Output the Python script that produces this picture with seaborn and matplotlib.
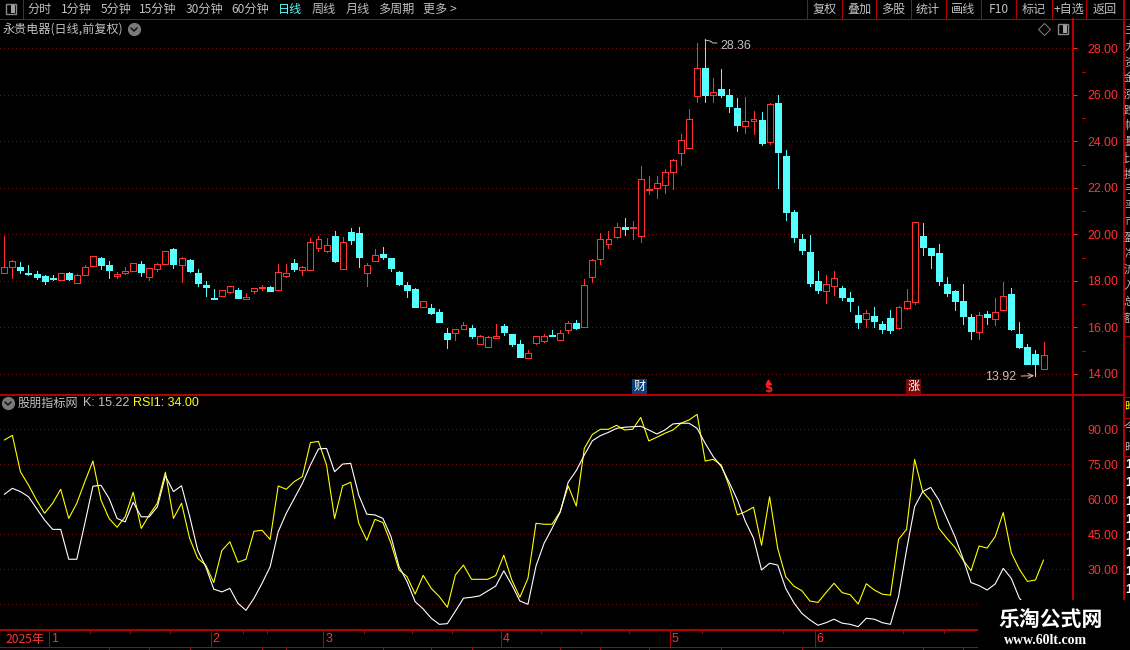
import matplotlib
matplotlib.use('Agg')
import matplotlib.pyplot as plt
from matplotlib.lines import Line2D
from matplotlib.patches import Rectangle
from matplotlib.ticker import FixedLocator
import numpy as np
import pandas as pd
import seaborn as sns

# daily bars
opens = [18.35, 18.58, 18.59, 18.32, 18.29, 18.21, 18.12, 18.05, 18.34, 17.92,
         18.26, 18.65, 18.98, 18.68, 18.22, 18.35, 18.44, 18.72, 18.18, 18.52,
         18.74, 19.37, 18.69, 18.89, 18.34, 17.82, 17.26, 17.36, 17.53, 17.60,
         17.23, 17.58, 17.69, 17.73, 17.60, 18.22, 18.77, 18.48, 18.48, 19.42,
         19.28, 19.93, 18.52, 20.10, 20.06, 18.35, 18.87, 19.15, 18.98, 18.38,
         17.82, 17.65, 16.89, 16.83, 16.66, 15.75, 15.77, 15.94, 15.97, 15.30,
         15.17, 15.55, 16.06, 15.71, 15.28, 14.69, 15.34, 15.42, 15.67, 15.47,
         15.90, 16.19, 16.03, 18.15, 18.92, 19.57, 19.87, 20.31, 20.27, 19.91,
         21.91, 21.98, 22.14, 22.66, 23.48, 23.73, 25.96, 27.15, 25.98, 26.25,
         25.99, 25.43, 24.64, 24.86, 24.91, 23.98, 25.65, 23.37, 20.96, 19.80,
         19.24, 17.99, 17.57, 17.79, 17.69, 17.26, 16.53, 16.37, 16.49, 16.14,
         16.40, 15.98, 16.84, 17.10, 19.93, 19.41, 19.20, 17.86, 17.56, 17.13,
         16.44, 15.81, 16.57, 16.37, 16.76, 17.43, 15.71, 15.15, 14.85, 14.21]
closes = [18.58, 18.84, 18.46, 18.29, 18.16, 18.01, 18.09, 18.32, 18.08, 18.24,
          18.58, 19.05, 18.68, 18.46, 18.29, 18.42, 18.75, 18.38, 18.54, 18.71,
          19.27, 18.72, 18.97, 18.42, 17.91, 17.73, 17.23, 17.59, 17.76, 17.26,
          17.30, 17.68, 17.72, 17.56, 18.38, 18.32, 18.51, 18.58, 19.65, 19.78,
          19.53, 18.85, 19.65, 19.75, 19.02, 18.67, 19.10, 19.02, 18.55, 17.86,
          17.60, 16.87, 17.12, 16.62, 16.23, 15.50, 15.91, 16.08, 15.63, 15.61,
          15.57, 15.61, 15.80, 15.28, 14.72, 14.88, 15.61, 15.61, 15.63, 15.74,
          16.17, 15.97, 17.80, 18.88, 19.78, 19.78, 20.30, 20.24, 20.30, 22.36,
          21.95, 22.19, 22.66, 23.18, 24.04, 24.94, 27.14, 25.99, 26.11, 25.99,
          25.51, 24.70, 24.86, 24.94, 23.93, 25.59, 23.54, 20.96, 19.88, 19.32,
          17.91, 17.60, 17.85, 18.11, 17.30, 17.13, 16.23, 16.60, 16.27, 15.93,
          15.88, 16.86, 17.12, 20.51, 19.45, 19.11, 17.99, 17.47, 17.13, 16.49,
          15.84, 16.53, 16.44, 16.64, 17.35, 15.93, 15.15, 14.42, 14.42, 14.79]
highs = [19.93, 18.89, 18.81, 18.68, 18.42, 18.25, 18.25, 18.32, 18.38, 18.28,
         18.68, 19.05, 19.02, 18.85, 18.38, 18.59, 18.75, 18.85, 18.54, 18.77,
         19.27, 19.41, 19.02, 18.94, 18.51, 17.99, 17.65, 17.59, 17.76, 17.69,
         17.48, 17.68, 17.82, 17.78, 18.72, 18.72, 18.94, 18.64, 19.84, 19.93,
         19.84, 20.14, 19.88, 20.27, 20.31, 18.77, 19.37, 19.45, 18.98, 18.42,
         17.95, 17.69, 17.12, 17.00, 16.79, 15.97, 15.91, 16.23, 16.10, 15.67,
         15.63, 16.14, 16.14, 15.71, 15.45, 15.02, 15.61, 15.71, 15.88, 15.88,
         16.27, 16.31, 18.08, 18.94, 20.06, 20.14, 20.49, 20.70, 20.57, 22.94,
         22.51, 22.51, 22.79, 23.24, 24.31, 25.39, 28.23, 28.36, 26.72, 27.11,
         26.25, 25.86, 25.91, 25.30, 25.26, 25.65, 25.99, 23.63, 21.04, 20.01,
         19.97, 18.42, 18.25, 18.42, 17.78, 17.52, 16.92, 16.74, 16.87, 16.27,
         16.74, 16.92, 17.65, 20.51, 20.49, 19.41, 19.58, 18.16, 17.60, 17.86,
         16.57, 16.66, 16.70, 17.26, 17.95, 17.69, 16.23, 15.28, 15.02, 15.37]
lows = [18.35, 18.12, 18.35, 18.25, 18.08, 17.86, 18.03, 18.05, 18.03, 17.92,
        18.26, 18.65, 18.51, 18.12, 18.12, 18.29, 18.44, 18.21, 18.03, 18.42,
        18.74, 18.55, 17.95, 18.38, 17.78, 17.35, 17.22, 17.36, 17.49, 17.26,
        17.23, 17.48, 17.60, 17.56, 17.60, 18.16, 18.42, 18.25, 18.48, 19.28,
        19.24, 18.81, 18.52, 19.58, 18.59, 17.78, 18.87, 18.94, 18.42, 17.82,
        17.30, 16.87, 16.89, 16.57, 16.23, 15.11, 15.45, 15.94, 15.54, 15.30,
        15.17, 15.55, 15.67, 15.20, 14.72, 14.69, 15.28, 15.37, 15.63, 15.47,
        15.75, 15.93, 16.03, 17.95, 18.72, 19.41, 19.84, 19.97, 19.80, 19.67,
        21.73, 21.56, 21.78, 21.95, 22.98, 23.73, 25.69, 25.69, 25.69, 25.91,
        25.26, 24.44, 24.36, 24.31, 23.84, 23.88, 21.99, 20.63, 19.67, 19.15,
        17.78, 17.47, 17.04, 17.39, 17.17, 16.70, 15.97, 16.01, 16.01, 15.75,
        15.75, 15.92, 16.79, 17.00, 19.11, 18.55, 17.82, 17.35, 16.74, 16.14,
        15.50, 15.50, 16.14, 16.10, 16.76, 15.88, 15.11, 14.42, 13.92, 14.21]

# indicator panel
rsi1 = [85.4, 87.4, 71.8, 66.1, 59.7, 54.0, 58.3, 64.3, 51.8, 58.3,
        67.6, 76.4, 59.7, 51.8, 48.0, 52.5, 63.0, 47.5, 53.3, 58.3,
        71.6, 51.8, 58.3, 43.3, 34.7, 31.8, 24.3, 38.0, 41.8, 33.0,
        34.3, 46.3, 46.7, 42.8, 65.7, 64.3, 67.6, 69.7, 84.3, 84.8,
        74.7, 51.8, 65.8, 67.3, 49.7, 42.4, 51.4, 50.0, 41.1, 29.7,
        26.8, 19.4, 27.4, 21.8, 18.3, 13.7, 27.6, 31.8, 25.7, 25.7,
        25.7, 27.3, 36.0, 25.4, 18.0, 26.1, 49.7, 49.3, 49.3, 54.7,
        65.7, 57.1, 81.8, 87.8, 90.0, 90.0, 91.7, 89.7, 90.0, 95.1,
        85.0, 86.6, 88.3, 89.7, 92.6, 94.0, 96.4, 76.4, 77.1, 74.7,
        65.4, 53.3, 54.7, 56.6, 40.3, 61.1, 39.0, 26.8, 22.8, 20.8,
        16.4, 15.8, 20.0, 24.0, 20.0, 19.1, 15.1, 23.8, 21.1, 19.3,
        18.9, 42.8, 47.1, 77.1, 63.3, 59.3, 47.6, 43.3, 39.4, 34.0,
        29.4, 40.0, 39.1, 44.0, 54.3, 37.1, 30.0, 24.8, 25.4, 34.0]
k_line = [62.1, 64.7, 63.3, 61.1, 56.1, 51.1, 47.1, 47.1, 34.3, 34.3,
          49.7, 65.6, 66.0, 60.4, 51.8, 50.3, 58.7, 52.5, 52.5, 56.8,
          70.0, 63.3, 65.8, 52.8, 38.3, 31.1, 21.5, 20.3, 21.8, 15.4,
          12.4, 17.6, 24.0, 31.1, 46.1, 54.0, 60.4, 66.8, 74.7, 81.6,
          81.8, 71.8, 75.1, 75.4, 61.8, 53.6, 53.3, 51.8, 44.0, 31.1,
          24.7, 16.1, 13.0, 9.0, 6.4, 6.7, 12.1, 17.6, 18.0, 18.6,
          20.7, 22.8, 29.3, 23.3, 16.4, 15.0, 31.4, 41.1, 47.6, 54.4,
          67.3, 72.3, 79.0, 85.1, 87.3, 88.7, 90.4, 90.9, 91.1, 91.3,
          89.7, 88.0, 89.7, 92.3, 92.6, 92.6, 90.4, 84.0, 78.3, 74.0,
          67.1, 59.7, 50.4, 43.3, 29.7, 32.6, 31.8, 21.8, 15.7, 11.1,
          8.3, 6.0, 7.1, 8.6, 6.9, 6.4, 5.4, 9.0, 8.6, 7.1,
          6.4, 18.3, 38.3, 56.8, 63.3, 65.1, 59.7, 51.8, 44.0, 34.7,
          24.3, 23.0, 21.1, 23.7, 30.4, 26.1, 17.6, 14.0, 13.5, 15.22]

price_ticks = [14, 16, 18, 20, 22, 24, 26, 28]
price_minor = [15, 17, 19, 21, 23, 25, 27]
rsi_ticks = [15, 30, 45, 60, 75, 90]
rsi_labels = ['', '30.00', '45.00', '60.00', '75.00', '90.00']
month_labels = ['1', '2', '3', '4', '5', '6']
month_starts = [6, 26, 40, 62, 83, 101]
week_marks = [11, 16, 21, 30, 33, 45, 51, 56, 67, 72, 78, 87, 97, 112, 117]
left_tools = ['分时', '1分钟', '5分钟', '15分钟', '30分钟', '60分钟', '日线', '周线', '月线', '多周期', '更多 >']
left_tool_x = [40, 76, 116, 158, 204, 250, 290, 324, 358, 396, 440]
right_tools = ['复权', '叠加', '多股', '统计', '画线', 'F10', '标记', '+自选', '返回']
right_tool_x = [825, 859, 893, 928, 963, 999, 1034, 1069, 1105]
right_tool_seps = [807, 842, 876, 911, 946, 981, 1016, 1052, 1086, 1123]

W, H = 1130, 650
RED = '#ff3232'
LINE_RED = '#b40000'
GRID_RED = '#701010'
CYAN = '#54ffff'
GREY = '#c0c0c0'
DOTS = (0, (1, 3))
THIN = 0.72

sns.set_theme(style='dark', rc={'axes.facecolor': 'black', 'figure.facecolor': 'black',
                                'savefig.facecolor': 'black', 'text.color': GREY})
plt.rcParams['font.family'] = ['Noto Sans CJK SC', 'DejaVu Sans']


def fx(x):
    return x / W


def fy(y):
    return 1 - y / H


def add_axes_px(fig, left, top, right, bottom):
    return fig.add_axes([fx(left), fy(bottom), fx(right - left), (bottom - top) / H])


def px_line(fig, xs, ys, color=LINE_RED, lw=THIN, aa=False, **kw):
    fig.add_artist(Line2D([fx(v) for v in xs], [fy(v) for v in ys], color=color, lw=lw,
                          antialiased=aa, **kw))


def px_text(fig, x, y, s, color=GREY, size=8.7, ha='center', **kw):
    fig.text(fx(x), fy(y), s, color=color, fontsize=size, ha=ha, va='center', **kw)


def panel_icon(fig, cx, cy):
    fig.add_artist(Rectangle((fx(cx - 5), fy(cy + 5)), 10 / W, 10 / H, fc='black', ec='#888888', lw=1))
    fig.add_artist(Rectangle((fx(cx), fy(cy + 4)), 4 / W, 8 / H, fc='#a0a0a0', ec='none'))


def chevron_dot(fig, cx, cy):
    px_line(fig, [cx], [cy], color='#7a7a7a', marker='o', markersize=8.5, aa=True)
    px_line(fig, [cx - 3, cx, cx + 3], [cy - 1, cy + 2, cy - 1], color='#111111', lw=1.1, aa=True)


def draw_candles(ax, df):
    up = df[df['close'] >= df['open']]
    down = df[df['close'] < df['open']]
    ax.vlines(up['idx'], up['low'], up['high'], colors=RED, lw=THIN, antialiased=False, zorder=2)
    ax.vlines(down['idx'], down['low'], down['high'], colors=CYAN, lw=THIN, antialiased=False, zorder=2)
    ax.bar(up['idx'], up['close'] - up['open'], bottom=up['open'], width=0.74, facecolor='black',
           edgecolor=RED, linewidth=THIN, antialiased=False, zorder=3)
    ax.bar(down['idx'], down['open'] - down['close'], bottom=down['close'], width=0.74, facecolor=CYAN,
           edgecolor=CYAN, linewidth=THIN, antialiased=False, zorder=3)


def style_axis(ax, xlim, ylim, ticks, labels):
    ax.set_xlim(*xlim)
    ax.set_ylim(*ylim)
    ax.set_xticks([])
    ax.set_xlabel('')
    ax.set_ylabel('')
    ax.yaxis.tick_right()
    ax.set_yticks(ticks)
    ax.set_yticklabels(labels)
    ax.grid(axis='y', color=GRID_RED, linestyle=DOTS, linewidth=THIN, antialiased=False)
    ax.set_axisbelow(True)
    for name in ['top', 'left', 'bottom', 'right']:
        ax.spines[name].set_visible(False)


bars = pd.DataFrame({'idx': np.arange(len(opens)), 'open': opens, 'close': closes, 'high': highs, 'low': lows})
lines = pd.DataFrame({'idx': np.arange(len(k_line)), 'K': k_line, 'RSI1': rsi1})

fig = plt.figure(figsize=(W / 100, H / 100), dpi=100, facecolor='black')

# x range that puts the first bar at 4.3 px with 8.056 px per bar
xlim = (-4.3 / 8.056, (1072 - 4.3) / 8.056)

ax_price = add_axes_px(fig, 0, 19, 1072, 394)
draw_candles(ax_price, bars)
style_axis(ax_price, xlim, (13.13, 29.26), price_ticks, [f'{t:.2f}' for t in price_ticks])
ax_price.tick_params(axis='y', colors=RED, length=3.6, width=THIN, pad=7.5, labelsize=8.9,
                     labelfontfamily='Liberation Sans', color=RED)
ax_price.yaxis.set_minor_locator(FixedLocator(price_minor))
ax_price.tick_params(axis='y', which='minor', length=0)
for m in price_minor:
    ax_price.plot([1082 / 1072, 1084.5 / 1072], [m, m], color=LINE_RED, lw=THIN, antialiased=False,
                  transform=ax_price.get_yaxis_transform(), clip_on=False)

ax_price.annotate('28.36', xy=(87, 28.36), xytext=(15, -6), textcoords='offset pixels', color=GREY,
                  fontsize=8.9, family='Liberation Sans', va='center')
ax_price.annotate('13.92', xy=(128, 13.92), xytext=(-50, -1), textcoords='offset pixels', color=GREY,
                  fontsize=8.9, family='Liberation Sans', va='center',
                  arrowprops=dict(arrowstyle='->', color=GREY, lw=THIN, shrinkA=1, shrinkB=1))

ax_rsi = add_axes_px(fig, 0, 395, 1072, 630)
sns.lineplot(data=lines, x='idx', y='RSI1', ax=ax_rsi, color='#ffff00', linewidth=0.8,
             estimator=None, legend=False)
sns.lineplot(data=lines, x='idx', y='K', ax=ax_rsi, color='white', linewidth=0.8,
             estimator=None, legend=False)
style_axis(ax_rsi, xlim, (3.97, 104.7), rsi_ticks, rsi_labels)
ax_rsi.tick_params(axis='y', colors=RED, length=0, pad=11, labelsize=8.9, labelfontfamily='Liberation Sans')

# time axis strip
ax_time = add_axes_px(fig, 0, 631, 1072, 650)
ax_time.set_xlim(*xlim)
ax_time.set_ylim(19, 0)
ax_time.axis('off')
starts = [m - 0.4 for m in month_starts]
ax_time.vlines(starts, 0, 16, colors=LINE_RED, lw=THIN, antialiased=False)
ax_time.vlines([m - 0.4 for m in week_marks], 0, 2, colors=LINE_RED, lw=THIN, antialiased=False)
ax_time.vlines([m + 2 for m in week_marks], 16, 19, colors=LINE_RED, lw=THIN, antialiased=False)
for label, pos in zip(month_labels, starts):
    ax_time.annotate(label, xy=(pos, 8), xytext=(2, 0), textcoords='offset pixels', color=RED,
                     fontsize=8.9, family='Liberation Sans', va='center')

# frame and toolbar
px_line(fig, [0, 1130], [19, 19])
px_line(fig, [0, 1123], [394.5, 394.5], lw=1.3)
px_line(fig, [0, 978], [630, 630], lw=1.3)
px_line(fig, [0, 978], [647, 647])
px_line(fig, [1072.5, 1072.5], [19, 600], lw=1.3)
px_line(fig, [1123.5, 1123.5], [0, 600], lw=1.3)
px_line(fig, [23, 23], [0, 19])
for x in right_tool_seps:
    px_line(fig, [x, x], [0, 19])
for y in [45, 142, 239, 336, 397, 418, 456]:
    px_line(fig, [1123, 1130], [y, y])

panel_icon(fig, 11, 9)
for label, x in zip(left_tools, left_tool_x):
    px_text(fig, x, 9.5, label, color=CYAN if label == '日线' else GREY)
for label, x in zip(right_tools, right_tool_x):
    px_text(fig, x, 9.5, label)

px_text(fig, 3, 29, '永贵电器(日线,前复权)', ha='left')
chevron_dot(fig, 134, 29)
px_line(fig, [1044], [29], color='#808080', marker='D', markersize=6, markerfacecolor='none',
        markeredgewidth=THIN, aa=True)
panel_icon(fig, 1063, 29)

chevron_dot(fig, 8, 403)
px_text(fig, 18, 403, '股朋指标网', ha='left')
px_text(fig, 83, 403, 'K: 15.22', ha='left', family='Liberation Sans', size=9)
px_text(fig, 133, 403, 'RSI1: 34.00', ha='left', color='#ffff00', family='Liberation Sans', size=9)
px_text(fig, 5, 639, '2025年', ha='left', color=RED)

# flag on the high
px_line(fig, [705, 705], [39, 47], color=GREY, aa=True)
px_line(fig, [705, 710, 713, 717], [40, 41, 43, 43], color=GREY, aa=True)

# event tags above the time axis
box = dict(boxstyle='square,pad=0.1', ec='none')
px_text(fig, 639.5, 386.5, '财', color='white', bbox=dict(fc='#0c3f78', **box))
px_text(fig, 768, 388.5, '$', color='#ff1e1e', size=8.5, fontweight='bold', family='DejaVu Sans')
px_line(fig, [768], [382], color='#ff1e1e', marker='^', markersize=3.5)
px_text(fig, 913.5, 386.5, '涨', color='white', bbox=dict(fc='#7a0808', **box))

# clipped side column
side_chars = list('主力资金涨跌幅量比换手率市盈净流入总额')
for i, ch in enumerate(side_chars):
    px_text(fig, 1124, 30 + i * 16, ch, ha='left', size=8.2, color='#b8b8b8')
px_text(fig, 1124, 407, '昨', ha='left', size=8.2, color='#ffff00')
px_text(fig, 1124, 428, '今', ha='left', size=8.2)
px_text(fig, 1124, 448, '昨', ha='left', size=8.2)
for y in [465, 483, 502, 520, 537, 553, 572, 590]:
    px_text(fig, 1125, y, '1', ha='left', size=9, color='white', fontweight='bold', family='Liberation Sans')

# watermark block covers the corner
fig.add_artist(Rectangle((fx(978), 0), 1 - fx(978), fy(600), fc='black', ec='none', zorder=5))
px_text(fig, 1050.5, 619, '乐淘公式网', color='white', size=15, fontweight='bold', zorder=6)
px_text(fig, 1046, 640, 'www.60lt.com', color='white', size=10, fontweight='bold',
        family='Liberation Serif', zorder=6)

fig.savefig('out.png', dpi=100, facecolor='black')
